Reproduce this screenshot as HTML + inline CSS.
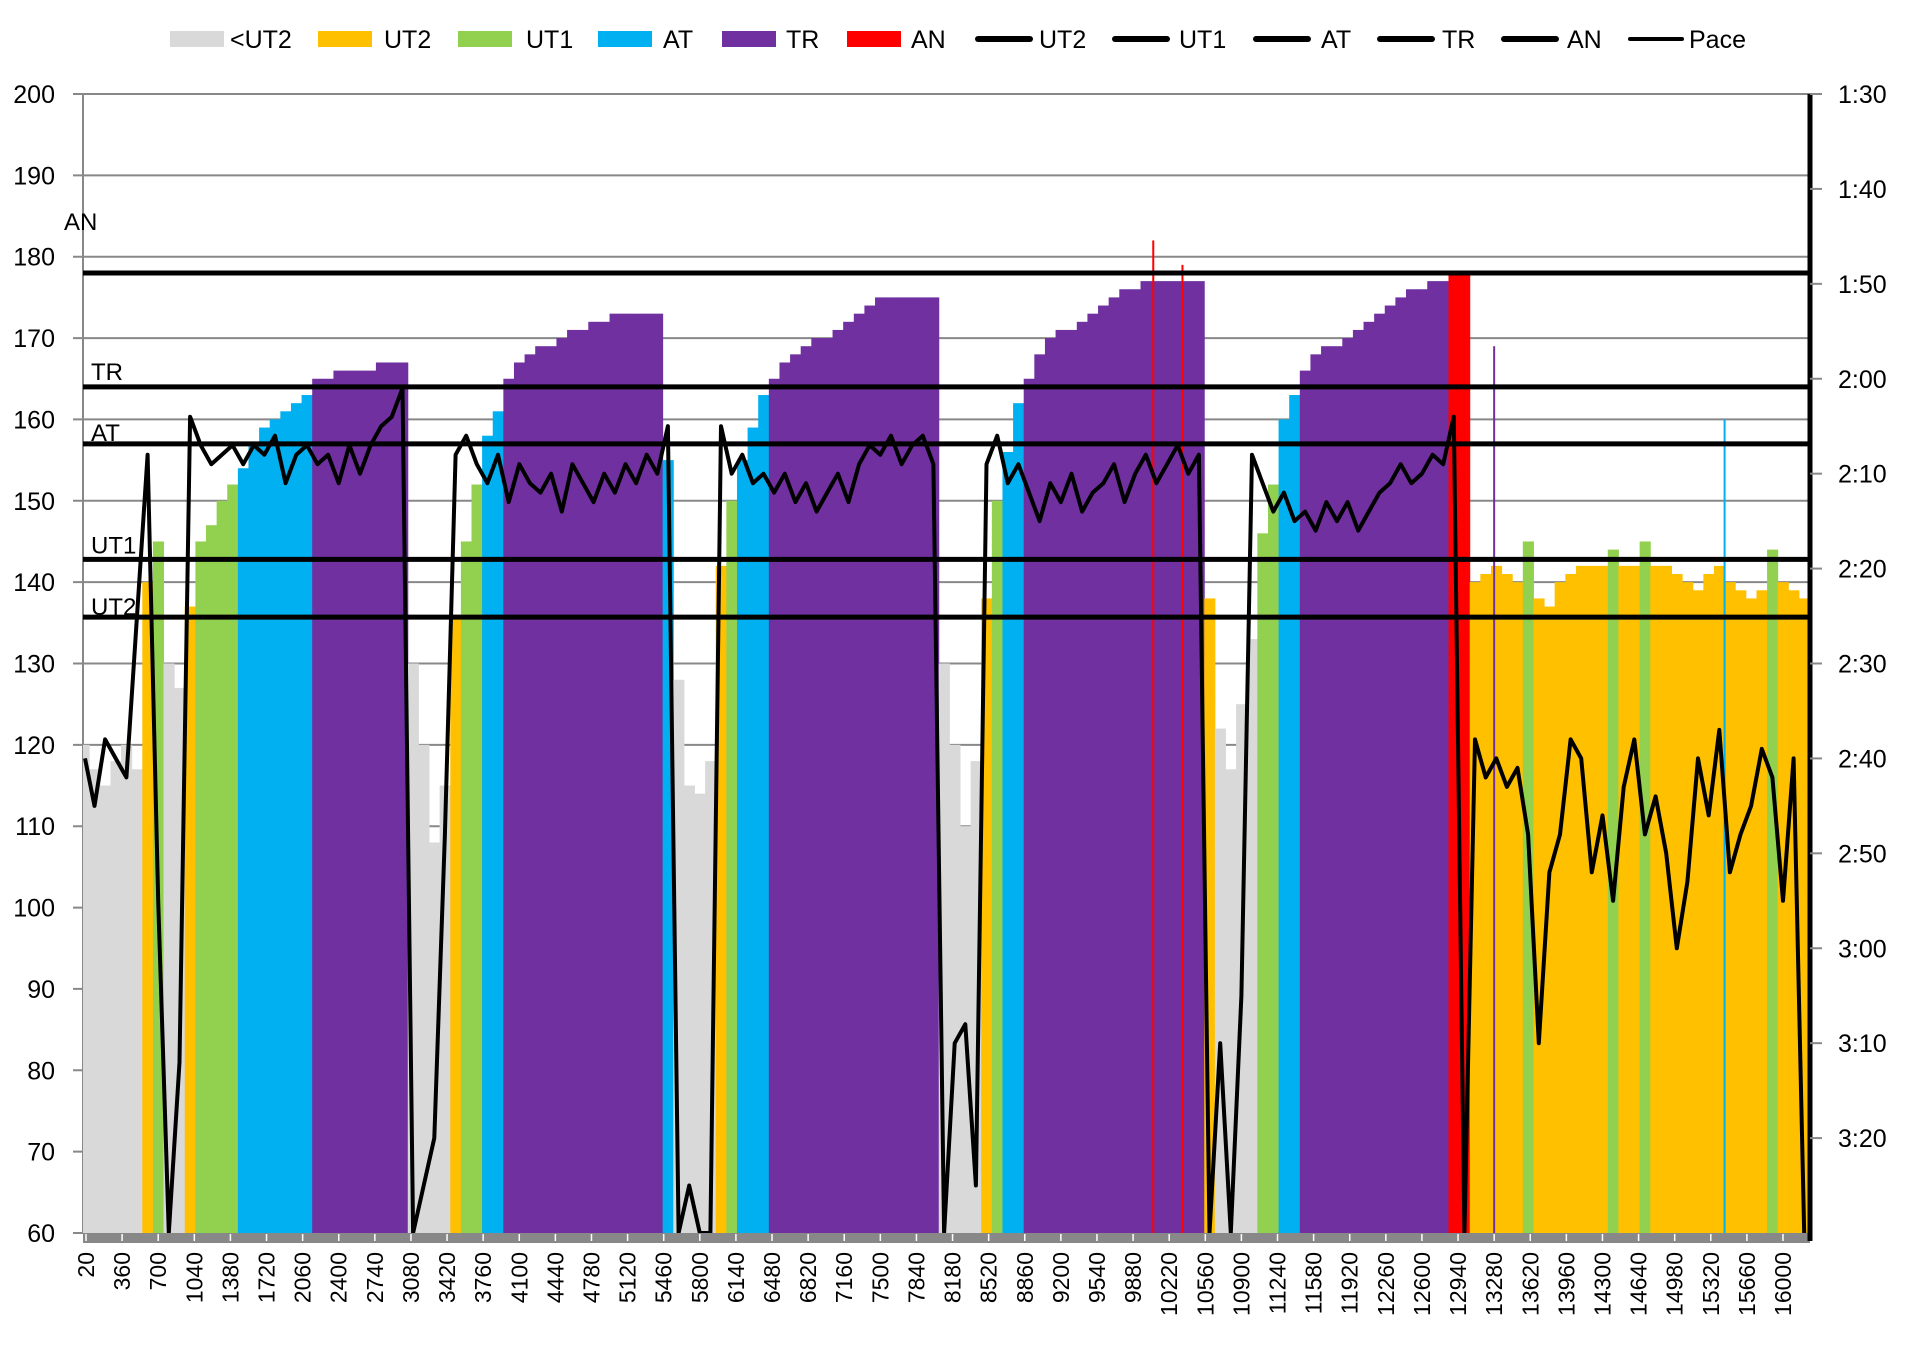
<!DOCTYPE html>
<html><head><meta charset="utf-8"><style>
html,body{margin:0;padding:0;background:#fff}
svg{display:block;font-family:"Liberation Sans",Arial,sans-serif}
</style></head><body>
<svg id="chart" width="1906" height="1370" viewBox="0 0 1906 1370" xmlns="http://www.w3.org/2000/svg">
<g id="legend"></g>
<g id="grid"></g>
<g id="bars"></g>
<g id="thresh"></g>
<g id="pace"></g>
<g id="axes"></g>
</svg>
<script>
const sampleTimes = [0,100,200,300,400,500,600,700,800,900,1000,1100,1200,1300,1400,1500,1600,1700,1800,1900,2000,2100,2200,2300,2400,2500,2600,2700,2800,2900,3000,3100,3200,3300,3400,3500,3600,3700,3800,3900,4000,4100,4200,4300,4400,4500,4600,4700,4800,4900,5000,5100,5200,5300,5400,5500,5600,5700,5800,5900,6000,6100,6200,6300,6400,6500,6600,6700,6800,6900,7000,7100,7200,7300,7400,7500,7600,7700,7800,7900,8000,8100,8200,8300,8400,8500,8600,8700,8800,8900,9000,9100,9200,9300,9400,9500,9600,9700,9800,9900,10000,10100,10200,10300,10400,10500,10600,10700,10800,10900,11000,11100,11200,11300,11400,11500,11600,11700,11800,11900,12000,12100,12200,12300,12400,12500,12600,12700,12800,12900,13000,13100,13200,13300,13400,13500,13600,13700,13800,13900,14000,14100,14200,14300,14400,14500,14600,14700,14800,14900,15000,15100,15200,15300,15400,15500,15600,15700,15800,15900,16000,16100,16200];
const heartRate = [120,117,115,118,120,117,140,145,130,127,137,145,147,150,152,154,157,159,160,161,162,163,165,165,166,166,166,166,167,167,167,130,120,108,115,136,145,152,158,161,165,167,168,169,169,170,171,171,172,172,173,173,173,173,173,155,128,115,114,118,142,150,155,159,163,165,167,168,169,170,170,171,172,173,174,175,175,175,175,175,175,130,120,110,118,138,150,156,162,165,168,170,171,171,172,173,174,175,176,176,177,177,177,177,177,177,138,122,117,125,133,146,152,160,163,166,168,169,169,170,171,172,173,174,175,176,176,177,177,178,178,140,141,142,141,140,145,138,137,140,141,142,142,142,144,142,142,145,142,142,141,140,139,141,142,140,139,138,139,144,140,139,138];
const paceSec = [160,165,158,160,162,145,128,175,210,192,124,127,129,128,127,129,127,128,126,131,128,127,129,128,131,127,130,127,125,124,121,210,205,200,168,128,126,129,131,128,133,129,131,132,130,134,129,131,133,130,132,129,131,128,130,125,210,205,210,210,125,130,128,131,130,132,130,133,131,134,132,130,133,129,127,128,126,129,127,126,129,210,190,188,205,129,126,131,129,132,135,131,133,130,134,132,131,129,133,130,128,131,129,127,130,128,210,190,210,185,128,131,134,132,135,134,136,133,135,133,136,134,132,131,129,131,130,128,129,124,210,158,162,160,163,161,168,190,172,168,158,160,172,166,175,163,158,168,164,170,180,173,160,166,157,172,168,165,159,162,175,160,210];
const spikeTimes = [10070,10345,13280,15450];
const spikeHR = [182,179,169,160];
const thresholdNames = ["AN","TR","AT","UT1","UT2"];
const thresholdValues = [178,164,157,142.8,135.7];
const hrTicks = [200,190,180,170,160,150,140,130,120,110,100,90,80,70,60];
const paceTicks = ["1:30","1:40","1:50","2:00","2:10","2:20","2:30","2:40","2:50","3:00","3:10","3:20"];
const xTickLabels = [20,360,700,1040,1380,1720,2060,2400,2740,3080,3420,3760,4100,4440,4780,5120,5460,5800,6140,6480,6820,7160,7500,7840,8180,8520,8860,9200,9540,9880,10220,10560,10900,11240,11580,11920,12260,12600,12940,13280,13620,13960,14300,14640,14980,15320,15660,16000];

const NS="http://www.w3.org/2000/svg";
const L=83,R=1810,T=94,B=1233;
const xPx=t=>86+(t-20)*(1783-86)/15980;
const yHR=h=>T+(200-h)*(B-T)/140;
const yPace=s=>T+(s-90)*(B-T)/120;
function mk(tag,attrs,parent){const e=document.createElementNS(NS,tag);for(const k in attrs)e.setAttribute(k,attrs[k]);parent.appendChild(e);return e;}
function zoneColor(h){if(h>=178)return"#ff0000";if(h>=164)return"#7030a0";if(h>=153)return"#00b0f0";if(h>=144)return"#92d050";if(h>=136)return"#ffc000";return"#d9d9d9";}

const grid=document.getElementById('grid');
hrTicks.forEach(v=>{const y=yHR(v);
 const g=mk('line',{x1:L-10,x2:R,y1:y,y2:y,stroke:'#888','stroke-width':2},grid);
 
 
 const t=mk('text',{x:55,y:y+9,'text-anchor':'end','font-size':25,fill:'#000'},grid);t.textContent=v;
 
 
});
mk('line',{x1:L,x2:L,y1:T,y2:B,stroke:'#888','stroke-width':2},grid);

const bars=document.getElementById('bars');
sampleTimes.forEach((t,i)=>{const h=heartRate[i];const x0=Math.max(L,xPx(t-50)),x1=Math.min(R,xPx(t+50));
 const r=mk('rect',{x:x0,y:yHR(h),width:x1-x0+0.5,height:B-yHR(h),fill:zoneColor(h)},bars);
 
 
});
spikeTimes.forEach((t,i)=>{const h=spikeHR[i];
 const r=mk('rect',{x:xPx(t)-1,y:yHR(h),width:2,height:B-yHR(h),fill:zoneColor(h)},bars);
 
 
});

const th=document.getElementById('thresh');
const labOff=[52,16,12,15,11];
thresholdValues.forEach((v,i)=>{const y=yHR(v);
 const l=mk('line',{x1:L,x2:R,y1:y,y2:y,stroke:'#000','stroke-width':5},th);
 
 
 const t=mk('text',{x:i==0?64:91,y:y-labOff[i]+9,'font-size':24,fill:'#000'},th);t.textContent=thresholdNames[i];
 
 
});

const pg=document.getElementById('pace');
const pts=sampleTimes.map((t,i)=>Math.max(L+2,Math.min(R,xPx(t))).toFixed(1)+','+yPace(Math.min(210,paceSec[i])).toFixed(1)).join(' ');
const pl=mk('polyline',{points:pts,fill:'none',stroke:'#000','stroke-width':4,'stroke-linejoin':'round'},pg);



const ax=document.getElementById('axes');
mk('rect',{x:L,y:B,width:R-L,height:10,fill:'#888'},ax);
xTickLabels.forEach(v=>{const x=xPx(v);
 mk('line',{x1:x,x2:x,y1:B+1,y2:B+8,stroke:'#fff','stroke-width':1.5},ax);
 const t=mk('text',{x:0,y:0,'text-anchor':'end','font-size':23,fill:'#000',transform:`translate(${x+8},1252) rotate(-90)`},ax);t.textContent=v;
 
 
});
mk('line',{x1:R,x2:R,y1:T,y2:B+8,stroke:'#000','stroke-width':5},ax);
paceTicks.forEach((s,i)=>{const y=T+i*(B-T)/12;
 mk('line',{x1:R,x2:R+12,y1:y,y2:y,stroke:'#888','stroke-width':2},ax);
 const t=mk('text',{x:1838,y:y+9,'font-size':25,fill:'#000'},ax);t.textContent=s;
 
 
});

const lg=document.getElementById('legend');
const legendItems=[["<UT2","box","#d9d9d9",170,230],["UT2","box","#ffc000",318,384],["UT1","box","#92d050",458,526],["AT","box","#00b0f0",598,663],["TR","box","#7030a0",722,786],["AN","box","#ff0000",847,911],["UT2","line","#000",976,1039],["UT1","line","#000",1113,1179],["AT","line","#000",1254,1321],["TR","line","#000",1378,1442],["AN","line","#000",1502,1567],["Pace","line","#000",1628,1689]];
legendItems.forEach(it=>{const g=mk('g',{},lg);
 
 
 if(it[1]=='box')mk('rect',{x:it[3],y:31,width:54,height:16,fill:it[2]},g);
 else mk('line',{x1:it[3]+2,x2:it[3]+54,y1:39,y2:39,stroke:'#000','stroke-width':it[0]=='Pace'?4:6,'stroke-linecap':'round'},g);
 const t=mk('text',{x:it[4],y:48,'font-size':25,fill:'#000'},g);t.textContent=it[0];
});
</script>
</body></html>
